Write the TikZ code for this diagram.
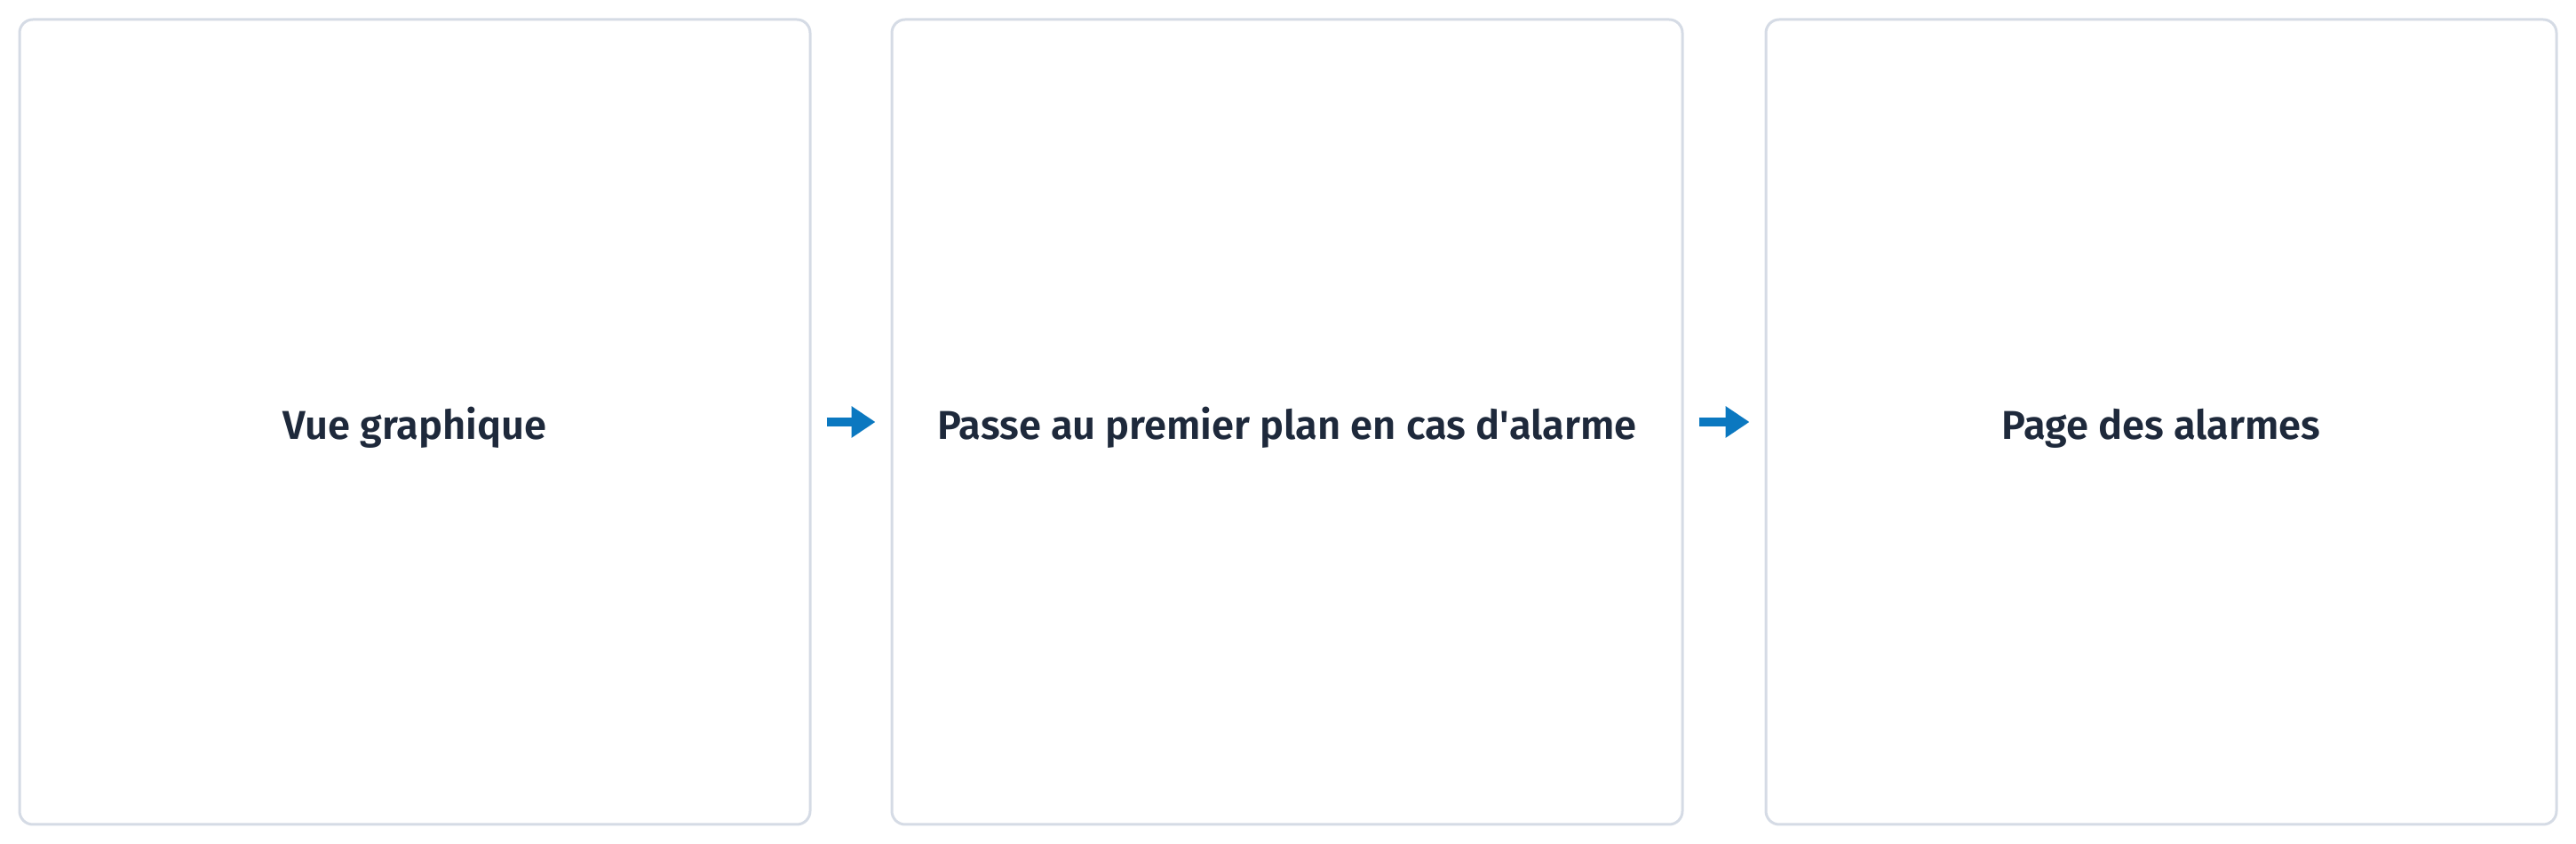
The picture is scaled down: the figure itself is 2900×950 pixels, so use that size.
\documentclass[tikz,border=0pt]{standalone}
\usepackage{fontspec}
\setmainfont{Fira Sans}[BoldFont={Fira Sans SemiBold}]
\usetikzlibrary{arrows.meta}
\definecolor{boxline}{HTML}{D5DBE5}
\definecolor{txt}{HTML}{1E293B}
\definecolor{arr}{HTML}{0B78C0}
\begin{document}
\begin{tikzpicture}[x=1pt,y=1pt,
  card/.style={draw=boxline, line width=3pt, rounded corners=15pt, fill=white,
    minimum width=890pt, minimum height=906pt, inner sep=0pt,
    text height=40pt, text depth=0pt,
    font=\fontsize{45.3}{55}\selectfont\bfseries, text=txt},
  flow/.style={draw=arr, line width=10pt, -{Triangle[length=27pt,width=34pt]},
    shorten <=17pt, shorten >=17pt}]
\useasboundingbox (0,0) rectangle (2900,950);
\node[card] (b1) at (467,475) {Vue graphique};
\node[card] (b2) at (1449,475) {Passe au premier plan en cas d\textquotesingle alarme};
\node[card] (b3) at (2433,475) {Page des alarmes};
\draw[flow] (b1.east) -- (b2.west);
\draw[flow] (b2.east) -- (b3.west);
\end{tikzpicture}
\end{document}
